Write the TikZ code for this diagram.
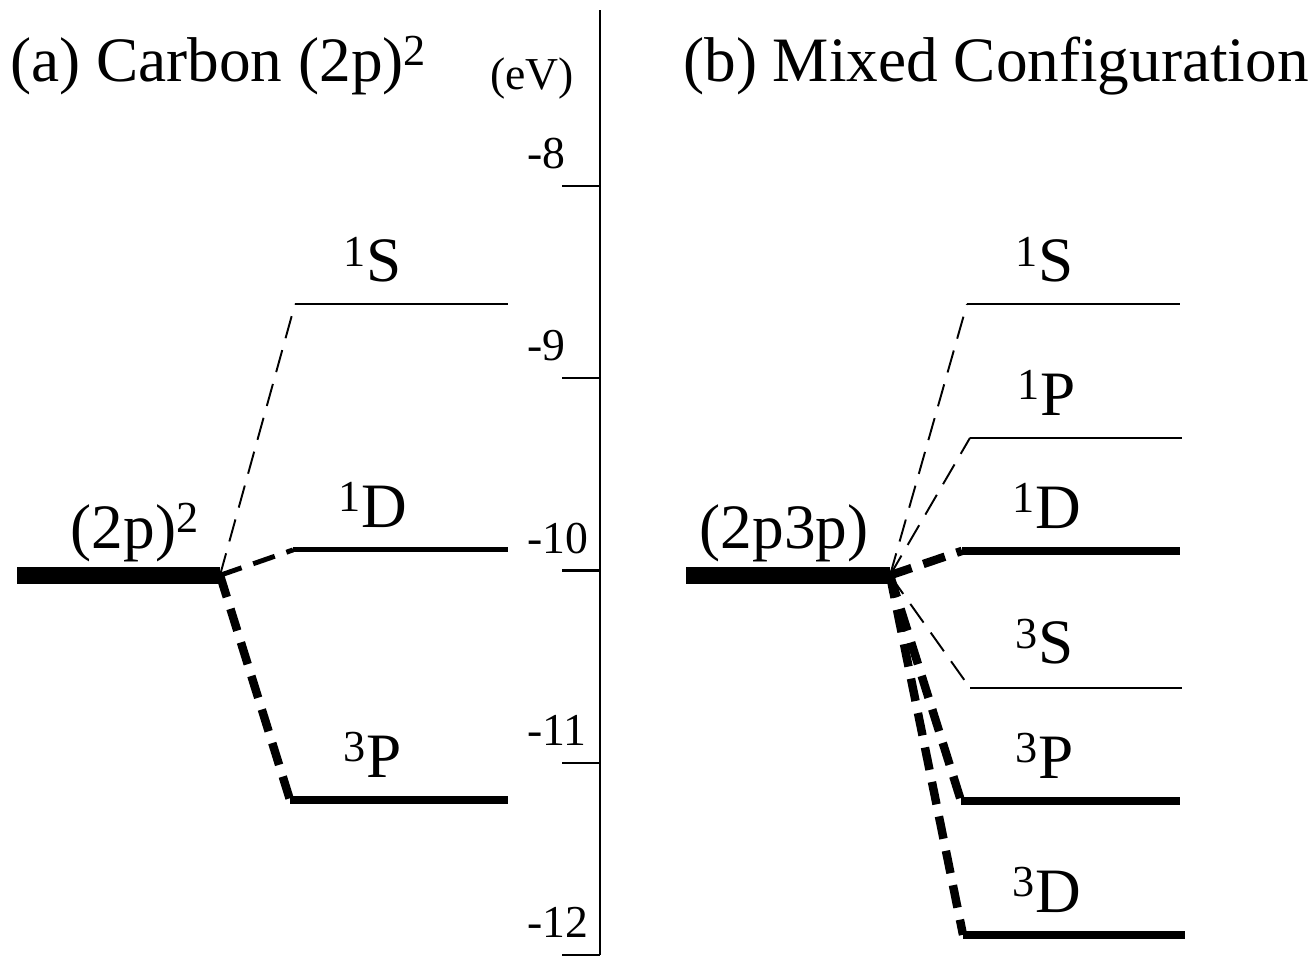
\documentclass[tikz,border=0pt]{standalone}
\usepackage{fontspec}
\setmainfont{Liberation Serif}
\begin{document}
\begin{tikzpicture}[x=0.02cm,y=3.846cm,
	big/.style={font=\fontsize{36}{40}\selectfont, inner sep=0pt, anchor=base},
	small/.style={font=\fontsize{26}{30}\selectfont, inner sep=0pt, anchor=base west},
	lvthin/.style={line width=1.1pt},
	lvmid/.style={line width=2.8pt},
	lvthick/.style={line width=4.8pt},
	lvbase/.style={line width=9.6pt},
	link/.style={dash pattern=on 13pt off 7pt}]
	\useasboundingbox (0,-12.0094) rectangle (1316,-7.0328);

	% Asse delle energie
	\draw[line width=1.4pt] (600,-7.085) -- (600,-12);
	\foreach \e in {-8,-9,-10,-11,-12}{
		\draw[line width=1.4pt] (562,\e) -- (600,\e);
		\node[small] (t\e) at (527,\e+0.09) {\e};
	}
	\node[small] (ev) at (490,-7.50) {(eV)};

	% Titoli
	\node[big, anchor=base west] (ta) at (10,-7.455) {(a) Carbon (2p)\textsuperscript{2}};
	\node[big, anchor=base west] (tb) at (683,-7.455) {(b) Mixed Configuration};

	% (a) livelli del carbonio
	\coordinate (a0) at (220,-10.025);
	\coordinate (a1S) at (295,-8.614);
	\coordinate (a1D) at (293,-9.893);
	\coordinate (a3P) at (290,-11.193);
	\draw[lvbase] (17,-10.025) -- (a0);
	\draw[lvthin] (a1S) -- ++(213,0);
	\draw[lvmid] (a1D) -- ++(215,0);
	\draw[lvthick] (a3P) -- ++(218,0);
	\draw[lvthin, link] (a0) -- (a1S);
	\draw[lvmid, link] (a0) -- (a1D);
	\draw[lvthick, link] (a0) -- (a3P);
	\node[big] (la0) at (135,-9.885) {(2p)\textsuperscript{2}};
	\node[big] (la1S) at (373,-8.499) {\textsuperscript{1}S};
	\node[big] (la1D) at (373,-9.778) {\textsuperscript{1}D};
	\node[big] (la3P) at (373,-11.078) {\textsuperscript{3}P};

	% (b) configurazione mista
	\coordinate (b0) at (890,-10.025);
	\coordinate (b1S) at (967,-8.614);
	\coordinate (b1P) at (970,-9.310);
	\coordinate (b1D) at (962,-9.898);
	\coordinate (b3S) at (970,-10.611);
	\coordinate (b3P) at (961,-11.198);
	\coordinate (b3D) at (963,-11.895);
	\draw[lvbase] (686,-10.025) -- (b0);
	\draw[lvthin] (b1S) -- (1180,-8.614);
	\draw[lvthin] (b1P) -- (1182,-9.310);
	\draw[lvthick] (b1D) -- (1180,-9.898);
	\draw[lvthin] (b3S) -- (1182,-10.611);
	\draw[lvthick] (b3P) -- (1180,-11.198);
	\draw[lvthick] (b3D) -- (1185,-11.895);
	\draw[lvthin, link] (b0) -- (b1S);
	\draw[lvthin, link] (b0) -- (b1P);
	\draw[lvthick, link] (b0) -- (b1D);
	\draw[lvthin, link] (b0) -- (b3S);
	\draw[lvthick, link] (b0) -- (b3P);
	\draw[lvthick, link] (b0) -- (b3D);
	\node[big] (lb0) at (784,-9.885) {(2p3p)};
	\node[big] (lb1S) at (1045,-8.499) {\textsuperscript{1}S};
	\node[big] (lb1P) at (1047,-9.193) {\textsuperscript{1}P};
	\node[big] (lb1D) at (1047,-9.783) {\textsuperscript{1}D};
	\node[big] (lb3S) at (1045,-10.486) {\textsuperscript{3}S};
	\node[big] (lb3P) at (1045,-11.083) {\textsuperscript{3}P};
	\node[big] (lb3D) at (1047,-11.780) {\textsuperscript{3}D};
\end{tikzpicture}
\end{document}
